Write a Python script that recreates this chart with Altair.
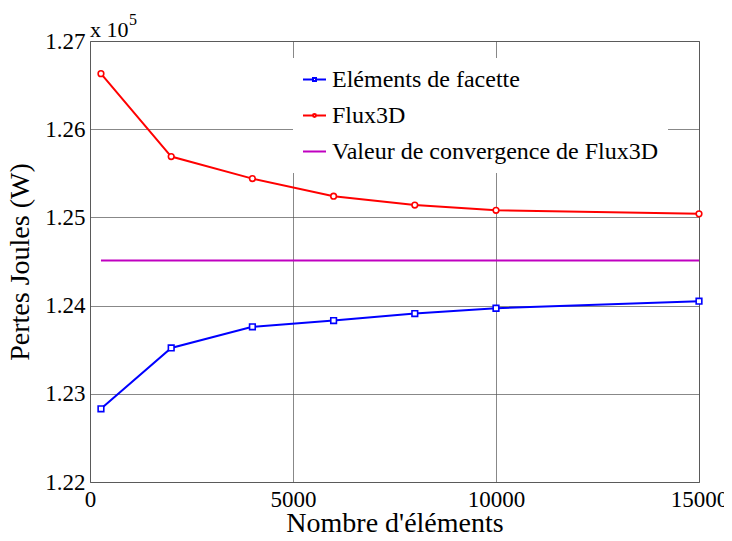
import altair as alt
import pandas as pd

# --- data (values in units of 10^5 W) ---
nb_elements = [270, 2000, 4000, 6000, 8000, 10000, 15000]
facette = [1.2283, 1.2352, 1.2376, 1.2383, 1.2391, 1.2397, 1.2405]
flux3d = [1.2663, 1.2569, 1.2544, 1.2524, 1.2514, 1.2508, 1.2504]
conv_x = [270, 15000]
convergence = [1.2451, 1.2451]

series_names = ["Eléments de facette", "Flux3D", "Valeur de convergence de Flux3D"]
series_colors = ["#0000ff", "#ff0000", "#c000c0"]
x_ticks = [0, 5000, 10000, 15000]
y_ticks = [1.22, 1.23, 1.24, 1.25, 1.26, 1.27]

rows = []
for x, y in zip(nb_elements, facette):
    rows.append({"series": series_names[0], "x": x, "y": y})
for x, y in zip(nb_elements, flux3d):
    rows.append({"series": series_names[1], "x": x, "y": y})
for x, y in zip(conv_x, convergence):
    rows.append({"series": series_names[2], "x": x, "y": y})
df = pd.DataFrame(rows)

FONT = "Liberation Serif"

legend_shapes = [
    "M-1,0H-0.13M0.13,0H1M-0.13,-0.13H0.13V0.13H-0.13Z",
    "M-1,0H-0.13M0.13,0H1M-0.13,0A0.13,0.13,0,1,1,0.13,0A0.13,0.13,0,1,1,-0.13,0",
    "M-1,0H1",
]

color_scale = alt.Scale(domain=series_names, range=series_colors)
leg = alt.Legend(title=None)

x_enc = alt.X("x:Q", scale=alt.Scale(domain=[0, 15000], nice=False),
              axis=alt.Axis(values=x_ticks, format="d", title="Nombre d'éléments",
                            titleX=304.5, titleY=49, titleBaseline="alphabetic"))
y_enc = alt.Y("y:Q", scale=alt.Scale(domain=[1.22, 1.27], nice=False, zero=False),
              axis=alt.Axis(values=y_ticks, format=".2f", title="Pertes Joules (W)",
                            titleX=-62, titleY=220.5, titleAngle=-90,
                            titleBaseline="alphabetic"))

# legend layer first so that its symbols define the merged legend
legend_layer = alt.Chart(df).transform_filter("datum.x < 0").mark_point(
    filled=False, strokeWidth=2, opacity=1
).encode(
    x=x_enc,
    y=y_enc,
    color=alt.Color("series:N", scale=color_scale, sort=series_names, legend=leg),
    shape=alt.Shape("series:N",
                    scale=alt.Scale(domain=series_names, range=legend_shapes),
                    sort=series_names, legend=leg),
)

lines = alt.Chart(df).mark_line(strokeWidth=2).encode(
    x="x:Q",
    y="y:Q",
    color=alt.Color("series:N", scale=color_scale, sort=series_names, legend=leg),
)

sq_points = alt.Chart(df[df["series"] == series_names[0]]).mark_point(
    shape="square", filled=False, size=32, strokeWidth=1.6, opacity=1
).encode(
    x="x:Q", y="y:Q",
    color=alt.Color("series:N", scale=color_scale, sort=series_names, legend=leg),
    fill=alt.value("white"),
)
ci_points = alt.Chart(df[df["series"] == series_names[1]]).mark_point(
    shape="circle", filled=False, size=32, strokeWidth=1.6, opacity=1
).encode(
    x="x:Q", y="y:Q",
    color=alt.Color("series:N", scale=color_scale, sort=series_names, legend=leg),
    fill=alt.value("white"),
)

ann = pd.DataFrame({"t": ["x 10"]})
mult = alt.Chart(ann).mark_text(
    font=FONT, fontSize=22, align="left", baseline="alphabetic", color="black"
).encode(x=alt.value(0), y=alt.value(-4), text="t:N")
exp_df = pd.DataFrame({"t": ["5"]})
expo = alt.Chart(exp_df).mark_text(
    font=FONT, fontSize=16, align="left", baseline="alphabetic", color="black"
).encode(x=alt.value(39), y=alt.value(-16), text="t:N")

chart = alt.layer(legend_layer, lines, sq_points, ci_points, mult, expo).properties(
    width=609, height=441,
    autosize=alt.AutoSizeParams(type="none"),
    padding={"left": 82, "top": 33, "right": 25, "bottom": 51},
).configure_view(
    stroke="#666", strokeWidth=1
).configure_axis(
    labelFont=FONT, labelFontSize=23, labelColor="black",
    titleFont=FONT, titleFontSize=28, titleColor="black", titleFontWeight="normal",
    grid=True, gridColor="#555", gridWidth=0.7, gridOpacity=1,
    ticks=False, tickSize=0, domain=False, labelPadding=5,
).configure_axisX(labelPadding=6, labelFlush=False).configure_legend(
    orient="none", legendX=203, legendY=17,
    fillColor="white", padding=9, rowPadding=11,
    labelFont=FONT, labelFontSize=24, labelColor="black",
    labelOffset=5, symbolSize=529, labelLimit=500,
    symbolStrokeWidth=2, symbolFillColor="transparent",
)

chart.save("out.html", embed_options={"renderer": "svg", "actions": False})
